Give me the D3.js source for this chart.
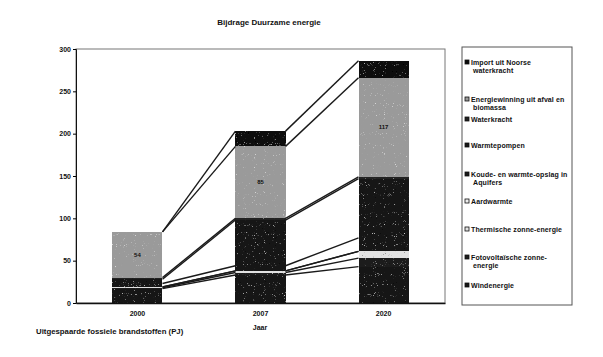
<!DOCTYPE html>
<html>
<head>
<meta charset="utf-8">
<script src="https://cdn.jsdelivr.net/npm/d3@7"></script>
<style>
  body { margin: 0; background: #fff; }
  text { font-family: "Liberation Sans", Arial, sans-serif; font-weight: bold; fill: #111; }
</style>
</head>
<body>
<script>
// data, bottom of the stack first
var years = ["2000", "2007", "2020"];
var series = ["Windenergie", "Fotovoltaïsche zonne-energie", "Thermische zonne-energie", "Aardwarmte",
  "Koude- en warmte-opslag in Aquifers", "Warmtepompen", "Waterkracht",
  "Energiewinning uit afval en biomassa", "Import uit Noorse waterkracht"];
var wind = [17, 33, 43];
var pv = [1, 3, 10];
var thermisch = [1, 2, 8];
var aardwarmte = [0, 0, 0];
var kwo = [4, 6, 16];
var warmtepompen = [5, 54, 70];
var waterkracht = [2, 2, 2];
var biomassa = [54, 85, 117];
var importNoors = [0, 18, 20];
var yTicks = [0, 50, 100, 150, 200, 250, 300];

var values = [wind, pv, thermisch, aardwarmte, kwo, warmtepompen, waterkracht, biomassa, importNoors];
var fills = ["#161616", "#1c1c1c", "#e2e2e2", "#eeeeee", "#181818", "#171717", "#202020", "#9a9a9a", "#0a0a0a"];
// legend labels, wrapped like the original
var legendLines = [
  ["Import uit Noorse", "waterkracht"],
  ["Energiewinning uit afval en", "biomassa"],
  ["Waterkracht"],
  ["Warmtepompen"],
  ["Koude- en warmte-opslag in", "Aquifers"],
  ["Aardwarmte"],
  ["Thermische zonne-energie"],
  ["Fotovoltaïsche zonne-", "energie"],
  ["Windenergie"]
];
var legendY = [65, 102, 122, 148, 177, 204, 232, 260, 288];

var table = years.map(function (y, i) {
  var row = { year: y };
  series.forEach(function (s, k) { row[s] = values[k][i]; });
  return row;
});

var svg = d3.select("body").append("svg").attr("width", 603).attr("height", 357);

var x = d3.scaleBand().domain(years).range([76, 445]).paddingInner(0.593).paddingOuter(0.296);
var y = d3.scaleLinear().domain([0, 300]).range([303, 49]);

var stacked = d3.stack().keys(series)(table);

// title
svg.append("text").attr("x", 269).attr("y", 25).attr("text-anchor", "middle")
  .attr("font-size", 8).text("Bijdrage Duurzame energie");

// plot frame
svg.append("rect").attr("x", 76).attr("y", 49).attr("width", 369).attr("height", 254)
  .attr("fill", "none").attr("stroke", "#777").attr("stroke-width", 1);

// speckle filters to mimic the scanned look
var defs = svg.append("defs");
function grain(id, seed, light, dark) {
  var f = defs.append("filter").attr("id", id).attr("x", 0).attr("y", 0).attr("width", 1).attr("height", 1);
  f.append("feTurbulence").attr("type", "fractalNoise").attr("baseFrequency", 1.1).attr("numOctaves", 1).attr("seed", seed).attr("result", "n");
  f.append("feColorMatrix").attr("in", "n").attr("type", "matrix")
    .attr("values", "0 0 0 0 " + light + "  0 0 0 0 " + light + "  0 0 0 0 " + light + "  5 0 0 0 -3.4").attr("result", "w");
  f.append("feComposite").attr("in", "w").attr("in2", "SourceGraphic").attr("operator", "in").attr("result", "wm");
  f.append("feColorMatrix").attr("in", "n").attr("type", "matrix")
    .attr("values", "0 0 0 0 " + dark + "  0 0 0 0 " + dark + "  0 0 0 0 " + dark + "  -5 0 0 0 1.6").attr("result", "b");
  f.append("feComposite").attr("in", "b").attr("in2", "SourceGraphic").attr("operator", "in").attr("result", "bm");
  f.append("feMerge").selectAll("feMergeNode").data(["SourceGraphic", "wm", "bm"]).enter()
    .append("feMergeNode").attr("in", function (d) { return d; });
}
grain("grainDark", 5, 0.75, 0.05);
grain("grainGray", 8, 0.9, 0.35);

// bars
svg.selectAll("g.layer")
  .data(stacked)
  .enter().append("g")
    .attr("class", "layer")
    .attr("fill", function (d, i) { return fills[i]; })
    .attr("filter", function (d, i) { return i === 7 ? "url(#grainGray)" : "url(#grainDark)"; })
  .selectAll("rect")
  .data(function (d) { return d; })
  .enter().append("rect")
    .attr("x", function (d) { return x(d.data.year); })
    .attr("y", function (d) { return y(d[1]); })
    .attr("width", x.bandwidth())
    .attr("height", function (d) { return y(d[0]) - y(d[1]); })
    .attr("shape-rendering", "crispEdges");

// series lines between the bars
stacked.forEach(function (layer) {
  for (var i = 0; i < layer.length - 1; i++) {
    svg.append("line")
      .attr("x1", x(years[i]) + x.bandwidth())
      .attr("y1", y(layer[i][1]))
      .attr("x2", x(years[i + 1]))
      .attr("y2", y(layer[i + 1][1]))
      .attr("stroke", "#1a1a1a")
      .attr("stroke-width", 1.4);
  }
});

// value labels of the biomass series
var bio = stacked[7];
svg.selectAll("text.val")
  .data(bio)
  .enter().append("text")
    .attr("class", "val")
    .attr("x", function (d) { return x(d.data.year) + x.bandwidth() / 2; })
    .attr("y", function (d) { return y((d[0] + d[1]) / 2) + 2; })
    .attr("text-anchor", "middle")
    .attr("font-size", 6)
    .text(function (d) { return d[1] - d[0]; });

// axes
var yAxis = svg.append("g").attr("transform", "translate(76,0)")
  .call(d3.axisLeft(y).tickValues(yTicks).tickSize(3).tickPadding(2));
yAxis.select(".domain").attr("stroke", "#111");
yAxis.selectAll("text").attr("font-size", 7).attr("font-family", "Liberation Sans, Arial").attr("font-weight", "bold");

var xAxis = svg.append("g").attr("transform", "translate(0,303)")
  .call(d3.axisBottom(x).tickSize(0).tickPadding(8));
xAxis.select(".domain").attr("stroke", "#111").attr("stroke-width", 1.5);
xAxis.selectAll("text").attr("font-size", 7).attr("font-family", "Liberation Sans, Arial").attr("font-weight", "bold");

svg.append("text").attr("x", 260).attr("y", 330).attr("text-anchor", "middle")
  .attr("font-size", 7).text("Jaar");
svg.append("text").attr("x", 36).attr("y", 334)
  .attr("font-size", 7.8).text("Uitgespaarde fossiele brandstoffen (PJ)");

// legend
svg.append("rect").attr("x", 462).attr("y", 47).attr("width", 110).attr("height", 258)
  .attr("fill", "none").attr("stroke", "#555").attr("stroke-width", 1);
var legendFills = fills.slice().reverse();
var lg = svg.selectAll("g.leg")
  .data(legendLines)
  .enter().append("g")
    .attr("class", "leg")
    .attr("transform", function (d, i) { return "translate(465," + legendY[i] + ")"; });
lg.append("rect")
  .attr("x", 0).attr("y", -5).attr("width", 4).attr("height", 4)
  .attr("fill", function (d, i) { return legendFills[i]; })
  .attr("stroke", "#111").attr("stroke-width", 0.8);
lg.append("text")
  .attr("font-size", 7)
  .attr("letter-spacing", 0.1)
  .selectAll("tspan")
  .data(function (d) { return d; })
  .enter().append("tspan")
    .attr("x", function (d, i) { return i === 0 ? 6 : 8; })
    .attr("dy", function (d, i) { return i === 0 ? 0 : 8; })
    .text(function (d) { return d; });
</script>
</body>
</html>
